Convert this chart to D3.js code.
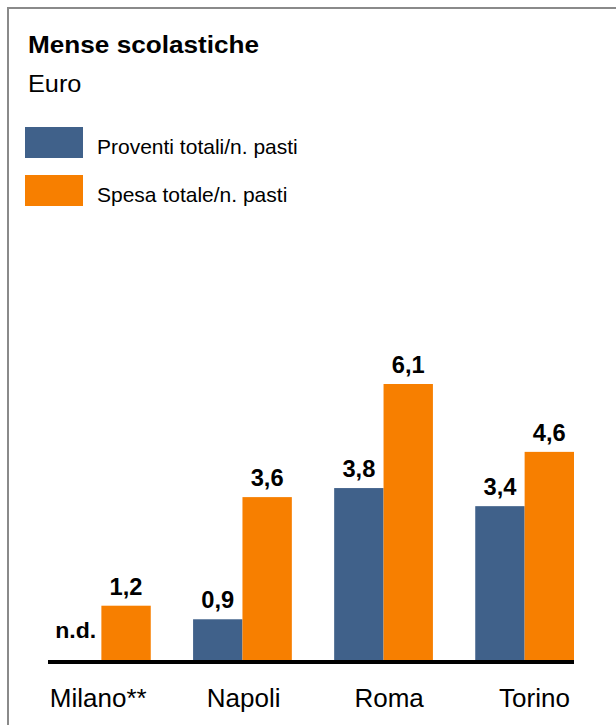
<!DOCTYPE html>
<html><head><meta charset="utf-8">
<script src="https://cdn.jsdelivr.net/npm/d3@7"></script>
<style>body{margin:0;background:#fff}svg{display:block;font-family:"Liberation Sans",Arial,sans-serif}</style>
</head><body>
<script>
const categories = ["Milano**", "Napoli", "Roma", "Torino"];
const seriesNames = ["Proventi totali/n. pasti", "Spesa totale/n. pasti"];
const proventi = [null, 0.9, 3.8, 3.4];
const spesa = [1.2, 3.6, 6.1, 4.6];
const colors = ["#40618A", "#F77F00"];

const W = 616, H = 725;
const svg = d3.select("body").append("svg").attr("width", W).attr("height", H);

function stext(parent, x, y, txt, size, bold, sx, anchor) {
  return parent.append("text")
    .attr("transform", `translate(${x},${y}) scale(${sx},1)`)
    .attr("font-size", size).attr("font-weight", bold ? "bold" : "normal")
    .attr("text-anchor", anchor || "start").text(txt);
}

// frame
svg.append("path").attr("d", `M8,${H} L8,8 L${W},8`).attr("fill","none").attr("stroke","#8a8a8a").attr("stroke-width",2);

stext(svg, 28, 53, "Mense scolastiche", 24, true, 1.09);
stext(svg, 28, 92, "Euro", 23, false, 1.1);

const legend = svg.append("g");
seriesNames.forEach((n,i)=>{
  const y0 = 127 + i*48;
  legend.append("rect").attr("x",25).attr("y",y0).attr("width",58).attr("height",31).attr("fill",colors[i]);
  legend.append("text").attr("x",97).attr("y",y0+27).attr("font-size",21).text(n);
});

const baseY = 662;
const x0 = d3.scaleBand().domain(categories).range([52, 574]).paddingInner(0.3).paddingOuter(0);
const x1 = d3.scaleBand().domain([0,1]).range([0, x0.bandwidth()]);
const y = d3.scaleLinear().domain([0, 6.1]).range([660, 384]);

const data = categories.map((c,i)=>({cat:c, vals:[proventi[i], spesa[i]]}));
const fmt = v => d3.format(".1f")(v).replace(".", ",");

const g = svg.append("g");
data.forEach(d=>{
  d.vals.forEach((v,j)=>{
    const bx = x0(d.cat) + x1(j);
    const cx = bx + x1.bandwidth()/2;
    if (v == null) {
      stext(g, cx-1, y(0)-22, "n.d.", 22, true, 1.05, "middle");
      return;
    }
    g.append("rect").attr("x",bx).attr("y",y(v)).attr("width",x1.bandwidth()).attr("height",y(0)-y(v)).attr("fill",colors[j]);
    stext(g, cx, y(v)-11, fmt(v), 23, true, 1.03, "middle");
  });
});

svg.append("line").attr("x1",48).attr("x2",574).attr("y1",baseY).attr("y2",baseY).attr("stroke","#000").attr("stroke-width",4);

const xl = d3.scalePoint().domain(categories).range([97.7, 534]);
const xAxis = d3.axisBottom(xl).tickSize(0).tickPadding(0);
const ax = svg.append("g").attr("transform",`translate(0,${baseY})`).call(xAxis);
ax.select(".domain").remove();
ax.selectAll("text").attr("font-size",26).attr("fill","#000").attr("font-family","Liberation Sans, Arial, sans-serif").attr("dy",null).attr("y",45);
</script>
</body></html>
